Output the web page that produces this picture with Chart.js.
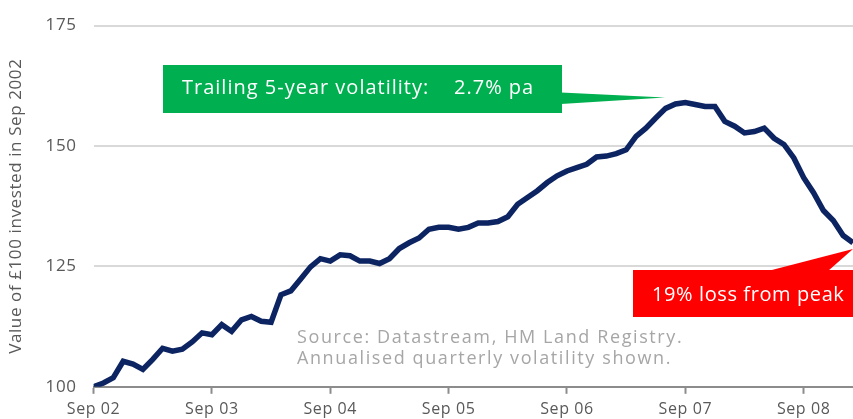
<!DOCTYPE html>
<html>
<head>
<meta charset="utf-8">
<script src="https://cdn.jsdelivr.net/npm/chart.js@4/dist/chart.umd.min.js"></script>
<style>
  body { margin: 0; background: #fff; }
  #wrap { width: 853px; height: 419px; position: relative; }
</style>
</head>
<body>
<div id="wrap"><canvas id="houseChart"></canvas></div>
<script>
// monthly, Sep 2002 - Feb 2009
const months = [
  'Sep 02','Oct 02','Nov 02','Dec 02','Jan 03','Feb 03','Mar 03','Apr 03','May 03','Jun 03','Jul 03','Aug 03',
  'Sep 03','Oct 03','Nov 03','Dec 03','Jan 04','Feb 04','Mar 04','Apr 04','May 04','Jun 04','Jul 04','Aug 04',
  'Sep 04','Oct 04','Nov 04','Dec 04','Jan 05','Feb 05','Mar 05','Apr 05','May 05','Jun 05','Jul 05','Aug 05',
  'Sep 05','Oct 05','Nov 05','Dec 05','Jan 06','Feb 06','Mar 06','Apr 06','May 06','Jun 06','Jul 06','Aug 06',
  'Sep 06','Oct 06','Nov 06','Dec 06','Jan 07','Feb 07','Mar 07','Apr 07','May 07','Jun 07','Jul 07','Aug 07',
  'Sep 07','Oct 07','Nov 07','Dec 07','Jan 08','Feb 08','Mar 08','Apr 08','May 08','Jun 08','Jul 08','Aug 08',
  'Sep 08','Oct 08','Nov 08','Dec 08','Jan 09','Feb 09'
]

// value of £100 invested in Sep 2002
const houseValue = [
  100.0, 100.8, 101.9, 105.3, 104.7, 103.6, 105.7, 108.0, 107.4, 107.8, 109.3, 111.2,
  110.8, 112.9, 111.5, 113.9, 114.6, 113.6, 113.4, 119.1, 119.9, 122.4, 124.9, 126.6,
  126.1, 127.4, 127.2, 126.1, 126.1, 125.6, 126.6, 128.7, 129.9, 130.9, 132.7, 133.1,
  133.1, 132.7, 133.1, 134.0, 134.0, 134.3, 135.3, 137.9, 139.3, 140.7, 142.4, 143.8,
  144.8, 145.5, 146.2, 147.7, 147.9, 148.4, 149.2, 152.0, 153.7, 155.8, 157.8, 158.7,
  159.0, 158.6, 158.2, 158.2, 155.1, 154.1, 152.7, 153.0, 153.7, 151.6, 150.3, 147.5,
  143.4, 140.3, 136.6, 134.5, 131.4, 129.9
]

const yTicks = [100, 125, 150, 175]
const volatilityText = 'Trailing 5-year volatility:    2.7% pa'
const lossText = '19% loss from peak'
const sourceLines = ['Source: Datastream, HM Land Registry.', 'Annualised quarterly volatility shown.']

const FONT = "'Open Sans', sans-serif"

// a bit of tracking so the text is as wide as the original font
const spacingPlugin = {
    id: 'spacing',
    beforeDraw(chart) {
        chart.ctx.letterSpacing = '0.6px'
    }
}

// callout boxes + source note
const calloutPlugin = {
    id: 'callouts',
    afterDatasetsDraw(chart) {
        const c = chart.ctx
        c.save()

        // green box with wedge pointing at the peak
        c.fillStyle = '#00b050'
        c.fillRect(163, 65, 399, 48)
        c.beginPath()
        c.moveTo(561, 92.5)
        c.lineTo(665, 97.5)
        c.lineTo(561, 104)
        c.closePath()
        c.fill()
        c.fillStyle = '#fff'
        c.font = '500 20px ' + FONT
        c.letterSpacing = '1px'
        c.textBaseline = 'middle'
        c.fillText(volatilityText, 182, 88)

        // red box
        c.fillStyle = '#ff0000'
        c.fillRect(633, 270, 220, 47)
        c.beginPath()
        c.moveTo(768, 271)
        c.lineTo(853, 249)
        c.lineTo(828, 271)
        c.closePath()
        c.fill()
        c.fillStyle = '#fff'
        c.letterSpacing = '0.6px'
        c.fillText(lossText, 652, 295)

        // source
        c.fillStyle = '#a6a6a6'
        c.font = '18px ' + FONT
        c.letterSpacing = '1.6px'
        c.fillText(sourceLines[0], 297, 338)
        c.fillText(sourceLines[1], 297, 359)
        c.restore()
    }
}

const ctx = document.getElementById('houseChart').getContext('2d')

new Chart(ctx, {
    type: 'line',
    data: {
        labels: months,
        datasets: [{
            data: houseValue,
            borderColor: '#0c2461',
            borderWidth: 5.5,
            pointRadius: 0,
            tension: 0,
            clip: 0
        }]
    },
    options: {
        responsive: true,
        maintainAspectRatio: false,
        animation: false,
        layout: { padding: { top: -3, right: 0, left: 6, bottom: -6 } },
        plugins: {
            legend: { display: false },
            tooltip: { enabled: false }
        },
        scales: {
            x: {
                afterBuildTicks: (scale) => {
                    scale.ticks = scale.ticks.filter(t => t.value % 12 === 0)
                },
                ticks: {
                    autoSkip: false,
                    maxRotation: 0,
                    padding: 6,
                    color: '#595959',
                    font: { family: FONT, size: 16 },
                    callback: (val) => months[val]
                },
                grid: {
                    drawOnChartArea: false,
                    tickLength: 7,
                    tickWidth: 2,
                    tickColor: '#8c8c8c'
                },
                border: { color: '#8c8c8c', width: 2 }
            },
            y: {
                min: 100,
                max: 175,
                afterBuildTicks: (scale) => {
                    scale.ticks = yTicks.map(v => ({ value: v }))
                },
                ticks: {
                    padding: 17,
                    color: '#595959',
                    font: { family: FONT, size: 17, lineHeight: 1 }
                },
                grid: {
                    drawTicks: false,
                    color: '#d9d9d9',
                    lineWidth: 2
                },
                border: { display: false },
                title: {
                    display: true,
                    text: 'Value of £100 invested in Sep 2002',
                    color: '#595959',
                    font: { family: FONT, size: 17 },
                    padding: { top: 0, bottom: 4 }
                }
            }
        }
    },
    plugins: [spacingPlugin, calloutPlugin]
})
</script>
</body>
</html>
